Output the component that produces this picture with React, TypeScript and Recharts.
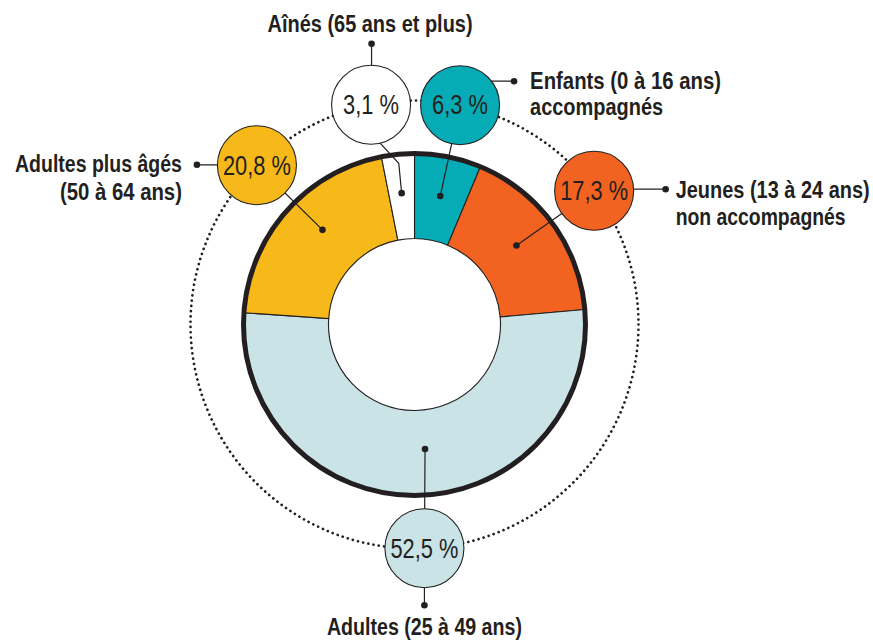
import React from "react";
import { PieChart, Pie, Cell } from "recharts";

// ---- data ----
const categories = [
  "Enfants (0 à 16 ans) accompagnés",
  "Jeunes (13 à 24 ans) non accompagnés",
  "Adultes (25 à 49 ans)",
  "Adultes plus âgés (50 à 64 ans)",
  "Aînés (65 ans et plus)",
];
const categoryLines = [
  ["Enfants (0 à 16 ans)", "accompagnés"],
  ["Jeunes (13 à 24 ans)", "non accompagnés"],
  ["Adultes (25 à 49 ans)"],
  ["Adultes plus âgés", "(50 à 64 ans)"],
  ["Aînés (65 ans et plus)"],
];
const shares = [6.3, 17.3, 52.5, 20.8, 3.1];
const colors = ["#05acb6", "#f26322", "#c9e3e6", "#f7b919", "#ffffff"];

const data = categories.map((name, i) => ({ name, value: shares[i] }));

// ---- layout ----
const CX = 414.5;
const CY = 324.5;
const R_IN = 86;
const R_OUT = 171;
const R_ORBIT = 224;
const R_BUBBLE = 39.5;
const INK = "#231f20";
const FONT = "'Liberation Sans Narrow', 'Liberation Sans', Arial, sans-serif";
const LABEL_SIZE = 20;
const LABEL_STRETCH = 1.15;

type Lay = {
  bubbleShift: number;
  dotShift: number;
  dotR: number;
  elbowR?: number;
  entry?: number;
  link: number[];
  anchor: "start" | "middle" | "end";
  textDx: number;
  textDy: number[];
  textLen: number[];
};

const layout: Lay[] = [
  { bubbleShift: -0.4, dotShift: 0, dotR: 131, link: [0, -24, 54, -24], anchor: "start", textDx: 16, textDy: [8, 34], textLen: [191, 133] },
  { bubbleShift: 0.5, dotShift: 1.6, dotR: 129, link: [0, -1.5, 71.5, -1.5], anchor: "start", textDx: 10, textDy: [9, 35.5], textLen: [194, 170] },
  { bubbleShift: 2, dotShift: 4.3, dotR: 125, link: [0, 0, 0, 57], anchor: "middle", textDx: 0, textDy: [30], textLen: [195] },
  { bubbleShift: -3.9, dotShift: -4.4, dotR: 132, link: [0, -0.5, -60, -0.5], anchor: "end", textDx: -15, textDy: [7, 35.5], textLen: [167, 122] },
  { bubbleShift: 5.6, dotShift: 0, dotR: 132, elbowR: 162, entry: 76.8, link: [0.5, 0, 0.5, -61], anchor: "middle", textDx: -1.5, textDy: [-11.6], textLen: [205] },
];

const RAD = Math.PI / 180;
const polar = (r: number, deg: number) => ({
  x: CX + r * Math.cos(-deg * RAD),
  y: CY + r * Math.sin(-deg * RAD),
});

const fmt = (v: number) => v.toFixed(1).replace(".", ",") + " %";

function renderLabel(props: any) {
  const { midAngle, index, value } = props;
  const L = layout[index];
  const b = polar(R_ORBIT, midAngle + L.bubbleShift);
  const d = polar(L.dotR, midAngle + L.dotShift);
  const pts = [d];
  if (L.elbowR) pts.push(polar(L.elbowR, midAngle + L.dotShift));
  if (L.entry != null) {
    pts.push({ x: b.x + R_BUBBLE * Math.cos(L.entry * RAD), y: b.y + R_BUBBLE * Math.sin(L.entry * RAD) });
  } else {
    pts.push(b);
  }
  const [lx1, ly1, lx2, ly2] = L.link;
  const labelDot = { x: b.x + lx2, y: b.y + ly2 };
  const label = fmt(value);
  const valLen = 56 + (label.length - 5) * 12;
  return (
    <g key={`lab-${index}`}>
      {index === 0 && (
        <g>
          <circle cx={CX} cy={CY} r={R_ORBIT} fill="none" stroke={INK} strokeWidth={2.7} strokeDasharray="0.01 5.3" strokeLinecap="round" />
          <circle cx={CX} cy={CY} r={R_OUT} fill="none" stroke={INK} strokeWidth={5} />
        </g>
      )}
      <polyline points={pts.map((p) => `${p.x},${p.y}`).join(" ")} fill="none" stroke={INK} strokeWidth={1.2} />
      <line x1={b.x + lx1} y1={b.y + ly1} x2={labelDot.x} y2={labelDot.y} stroke={INK} strokeWidth={1.2} />
      <circle cx={d.x} cy={d.y} r={3.3} fill={INK} />
      <circle cx={labelDot.x} cy={labelDot.y} r={3.3} fill={INK} />
      <circle cx={b.x} cy={b.y} r={R_BUBBLE} fill={colors[index]} stroke={INK} strokeWidth={1.1} />
      <text
        x={b.x}
        y={b.y + 9.3}
        textAnchor="middle"
        fontFamily={FONT}
        fontSize={27.5}
        fill={INK}
        textLength={valLen}
        lengthAdjust="spacingAndGlyphs"
      >
        {label}
      </text>
      {categoryLines[index].map((line, k) => (
        <text
          key={k}
          x={0}
          y={0}
          transform={`translate(${labelDot.x + L.textDx},${labelDot.y + L.textDy[k]}) scale(1,${LABEL_STRETCH})`}
          textAnchor={L.anchor}
          fontFamily={FONT}
          fontWeight={700}
          fontSize={LABEL_SIZE}
          fill={INK}
          textLength={L.textLen[k]}
          lengthAdjust="spacingAndGlyphs"
        >
          {line}
        </text>
      ))}
    </g>
  );
}

export default function App() {
  return (
    <div style={{ position: "absolute", left: 0, top: 0, width: 873, height: 642, background: "#ffffff" }}>
      <PieChart width={873} height={642} margin={{ top: 0, right: 0, bottom: 0, left: 0 }}>
        <Pie
          data={data}
          dataKey="value"
          nameKey="name"
          cx={CX}
          cy={CY}
          innerRadius={R_IN}
          outerRadius={R_OUT}
          startAngle={90}
          endAngle={-270}
          stroke={INK}
          strokeWidth={1.1}
          isAnimationActive={false}
          labelLine={false}
          label={renderLabel}
        >
          {data.map((_, i) => (
            <Cell key={i} fill={colors[i]} />
          ))}
        </Pie>
      </PieChart>
    </div>
  );
}
